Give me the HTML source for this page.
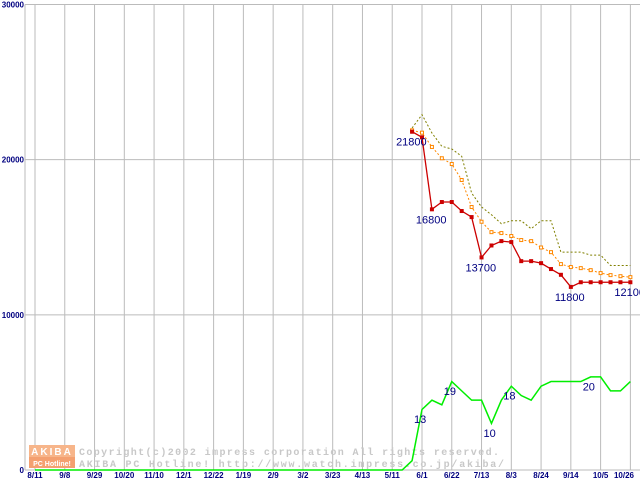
<!DOCTYPE html>
<html><head><meta charset="utf-8"><style>
body{margin:0;background:#fff;width:640px;height:480px;overflow:hidden}
svg{display:block;font-family:"Liberation Sans",sans-serif}
</style></head><body>
<svg id="chart" width="640" height="480" viewBox="0 0 640 480" xmlns="http://www.w3.org/2000/svg">
<g id="grid"></g>
<g id="ylabels"></g>
<g id="xlabels"></g>
<g>
<rect x="29" y="445" width="46" height="12" fill="#f7b58a"/>
<rect x="29" y="457" width="46" height="11" fill="#f4a070"/>
<text x="52" y="455" font-size="10" fill="#fff" text-anchor="middle" font-weight="bold" letter-spacing="2">AKIBA</text>
<text x="52" y="466" font-size="7" fill="#fff" text-anchor="middle" font-weight="bold">PC Hotline!</text>
<text x="79" y="455" font-size="10" fill="#c8c8c8" font-family="Liberation Mono,monospace" font-weight="bold" textLength="420">Copyright(c)2002 impress corporation All rights reserved.</text>
<text x="79" y="467" font-size="10" fill="#c8c8c8" font-family="Liberation Mono,monospace" font-weight="bold" textLength="425">AKIBA PC Hotline! http://www.watch.impress.co.jp/akiba/</text>
</g>
<g id="series"></g>
<g id="labels"></g>
</svg>
<script>
const xTickLabels=["8/11","9/8","9/29","10/20","11/10","12/1","12/22","1/19","2/9","3/2","3/23","4/13","5/11","6/1","6/22","7/13","8/3","8/24","9/14","10/5","10/26"];
const yTickLabels=["0","10000","20000","30000"];
const yTickValues=[0,10000,20000,30000];
const weekStart=38;
const minPrice=[21800,21440,16800,17270,17270,16690,16300,13700,14470,14750,14690,13460,13460,13330,12950,12580,11800,12100,12100,12100,12100,12100,12100];
const avgPrice=[21890,21740,20820,20090,19720,18690,16950,16000,15330,15270,15080,14820,14750,14340,14040,13270,13080,13010,12880,12690,12560,12490,12430];
const maxPrice=[22040,22900,21720,20860,20690,20220,17850,16950,16450,15870,16060,16060,15550,16060,16060,14040,14040,14040,13850,13850,13180,13180,13180];
const shopCount=[0,2,13,15,14,19,17,15,15,10,15,18,16,15,18,19,19,19,19,20,20,17,17,19];
const priceLabels=[[0,"21800"],[2,"16800"],[7,"13700"],[16,"11800"],[22,"12100"]];
const countLabels=[[2,"13"],[5,"19"],[9,"10"],[11,"18"],[19,"20"]];
const NS="http://www.w3.org/2000/svg";
const X0=35,WEEK=9.923,Y0=470,YTOP=4.5;
function xw(w){return X0+WEEK*w;}
function xi(i){return xw(weekStart+i);}
function yv(v){return Y0-(Y0-YTOP)*v/30000;}
function yc(c){return Y0-(Y0-YTOP)*c/100;}
function mk(tag,attrs,parent){const e=document.createElementNS(NS,tag);for(const k in attrs)e.setAttribute(k,attrs[k]);parent.appendChild(e);return e;}
const grid=document.getElementById('grid');
const gx=document.getElementById('xlabels'),gy=document.getElementById('ylabels');
mk('line',{x1:25,y1:YTOP,x2:25,y2:Y0,stroke:'#bbb'},grid);
xTickLabels.forEach((t,k)=>{const x=xw(3*k);
 const l=mk('line',{x1:x,y1:YTOP,x2:x,y2:Y0,stroke:'#bbb'},grid);
 
 
 const tx=mk('text',{x:Math.min(x,624),y:478,'font-size':8,'font-weight':'bold',fill:'#000080','text-anchor':'middle'},gx);
 tx.textContent=t;
 
 
});
yTickValues.forEach((v,k)=>{const y=yv(v);
 const l=mk('line',{x1:25,y1:y,x2:640,y2:y,stroke:'#bbb'},grid);
 
 
 const tx=mk('text',{x:24,y:y+3,'font-size':8,'font-weight':'bold',fill:'#000080','text-anchor':'end'},gy);
 tx.textContent=yTickLabels[k];
 
 
});
const S=document.getElementById('series');
let gp=[[X0,Y0]];shopCount.forEach((c,i)=>gp.push([xi(i-1),yc(c)]));
const gl=mk('polyline',{points:gp.map(p=>p.join(',')).join(' '),fill:'none',stroke:'#00ee00','stroke-width':1.5},S);


const ml=mk('polyline',{points:maxPrice.map((v,i)=>xi(i)+','+yv(v)).join(' '),fill:'none',stroke:'#808000','stroke-width':1,'stroke-dasharray':'2,2'},S);


const al=mk('polyline',{points:avgPrice.map((v,i)=>xi(i)+','+yv(v)).join(' '),fill:'none',stroke:'#ff8800','stroke-width':1,'stroke-dasharray':'2,2'},S);


avgPrice.forEach((v,i)=>{const r=mk('rect',{x:xi(i)-1.5,y:yv(v)-1.5,width:3,height:3,fill:'#fff',stroke:'#ff8800','stroke-width':1},S);
 
 });
const rl=mk('polyline',{points:minPrice.map((v,i)=>xi(i)+','+yv(v)).join(' '),fill:'none',stroke:'#cc0000','stroke-width':1.3},S);


minPrice.forEach((v,i)=>{const r=mk('rect',{x:xi(i)-2,y:yv(v)-2,width:4,height:4,fill:'#cc0000'},S);
 
 });
const L=document.getElementById('labels');
priceLabels.forEach(([i,t])=>{const x=xi(i),y=yv(minPrice[i]);
 const tx=mk('text',{x:x-16,y:y+14,'font-size':11,fill:'#000080'},L);tx.textContent=t;
 
 });
countLabels.forEach(([i,t])=>{const x=xi(i-1),y=yc(shopCount[i]);
 const tx=mk('text',{x:x-8,y:y+13.5,'font-size':11,fill:'#000080'},L);tx.textContent=t;
 
 });
</script>
</body></html>
